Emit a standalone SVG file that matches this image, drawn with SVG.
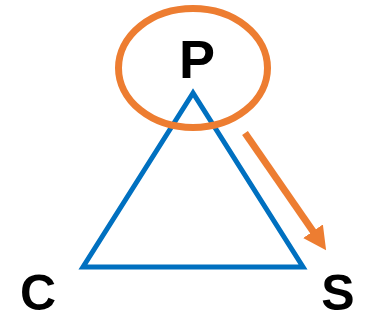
<svg xmlns="http://www.w3.org/2000/svg" width="377" height="320" viewBox="0 0 377 320">
<style>
.lbl{font-family:"Liberation Sans",Arial,sans-serif;font-weight:bold;font-size:50px;fill:#000;text-anchor:middle}
</style>
<defs>
<marker id="ah" viewBox="0 0 23 24" refX="7" refY="12" markerWidth="23" markerHeight="24" markerUnits="userSpaceOnUse" orient="auto">
<path d="M0,0 L23,12 L0,24 z" fill="#ed7d31"/>
</marker>
</defs>
<rect width="377" height="320" fill="#fff"/>
<g id="triangle">
<polygon points="193,93 83,267 303,267" fill="none" stroke="#0070c0" stroke-width="5"/>
</g>
<g id="P">
<ellipse cx="193" cy="68" rx="74.5" ry="59.5" fill="none" stroke="#ed7d31" stroke-width="7"/>
<text class="lbl" x="197" y="78" style="font-size:54px">P</text>
</g>
<g id="C"><text class="lbl" x="38" y="310">C</text></g>
<g id="S"><text class="lbl" x="338" y="310">S</text></g>
<g id="connectors">
<line x1="245" y1="133" x2="317" y2="237" stroke="#ed7d31" stroke-width="7" marker-end="url(#ah)"/>
</g>
</svg>
